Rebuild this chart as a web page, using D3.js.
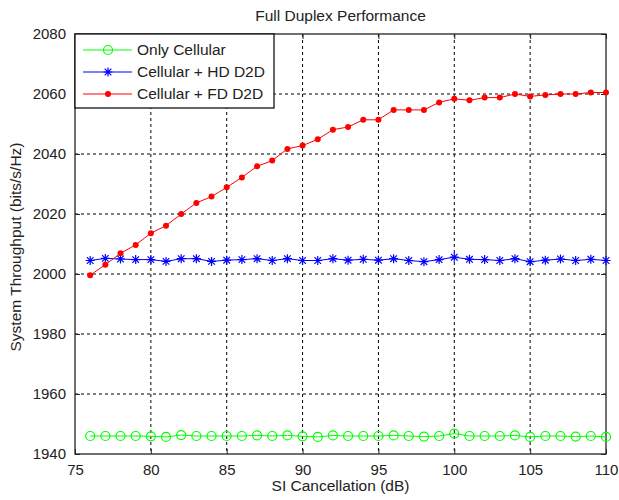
<!DOCTYPE html>
<html>
<head>
<meta charset="utf-8">
<script src="https://cdn.jsdelivr.net/npm/d3@7"></script>
<style>
    body { margin: 0; background: #fff; }
    svg { display: block; font-family: "Liberation Sans", Arial, sans-serif; }
    .grid line { stroke: #000; stroke-dasharray: 3,3; stroke-width: 1; }
    .tick-label { font-size: 15px; fill: #222; }
</style>
</head>
<body>
<svg id="chart" width="619" height="500"></svg>
<script>
// SI cancellation levels (dB)
var siCancel = [76, 77, 78, 79, 80, 81, 82, 83, 84, 85, 86, 87, 88, 89, 90, 91, 92, 93,
                94, 95, 96, 97, 98, 99, 100, 101, 102, 103, 104, 105, 106, 107, 108, 109, 110];

var onlyCellular = [1946, 1946, 1946, 1946, 1945.9, 1945.7, 1946.3, 1946, 1946, 1946,
                    1946, 1946.2, 1946, 1946.2, 1945.9, 1945.7, 1946.2, 1946,
                    1946, 1946, 1946.2, 1946, 1945.8, 1946, 1946.8, 1946, 1946, 1946,
                    1946.2, 1945.7, 1946, 1946, 1945.8, 1946, 1945.7];

var hdD2D = [2004.5, 2005.2, 2005, 2004.8, 2004.8, 2004.2, 2005.1, 2005.1, 2004.2, 2004.6,
             2004.8, 2005.1, 2004.5, 2005.1, 2004.5, 2004.5, 2005.1, 2004.6,
             2004.9, 2004.6, 2005.1, 2004.5, 2004.1, 2004.8, 2005.6, 2004.9, 2004.8, 2004.5,
             2005.1, 2004.1, 2004.6, 2005, 2004.5, 2004.9, 2004.5];

var fdD2D = [1999.6, 2003.1, 2006.9, 2009.7, 2013.6, 2016.1, 2020, 2023.7, 2025.8, 2028.9,
             2032.2, 2035.9, 2037.8, 2041.7, 2042.8, 2044.9, 2048.1, 2049,
             2051.4, 2051.4, 2054.7, 2054.7, 2054.7, 2057.2, 2058.4, 2057.9, 2058.8, 2058.8,
             2060, 2059.2, 2059.7, 2060, 2060, 2060.5, 2060.5];

var xTicks = [75, 80, 85, 90, 95, 100, 105, 110];
var yTicks = [1940, 1960, 1980, 2000, 2020, 2040, 2060, 2080];

var seriesNames = ['Only Cellular', 'Cellular + HD D2D', 'Cellular + FD D2D'];

var svg = d3.select('#chart'),
    margin = {top: 34, right: 13, bottom: 46, left: 75},
    width = 619 - margin.left - margin.right,
    height = 500 - margin.top - margin.bottom;

var scene = svg.append('g')
    .attr('transform', 'translate(' + margin.left + ',' + margin.top + ')');

var x = d3.scaleLinear().domain([75, 110]).range([0, width]);
var y = d3.scaleLinear().domain([1940, 2080]).range([height, 0]);

// build series from the arrays
var data = [
    {id: 'cell', title: seriesNames[0], color: '#00ff00', marker: 'circle',
        values: siCancel.map(function (d, i) { return {x: d, y: onlyCellular[i]}; })},
    {id: 'hd', title: seriesNames[1], color: '#0000ff', marker: 'star',
        values: siCancel.map(function (d, i) { return {x: d, y: hdD2D[i]}; })},
    {id: 'fd', title: seriesNames[2], color: '#ff0000', marker: 'dot',
        values: siCancel.map(function (d, i) { return {x: d, y: fdD2D[i]}; })}
];

// Grid (dotted, like matlab "grid on")
var grid = scene.append('g').attr('class', 'grid');
grid.selectAll('.gx')
    .data(xTicks.slice(1, -1))
    .enter().append('line')
    .attr('x1', function (d) { return x(d); })
    .attr('x2', function (d) { return x(d); })
    .attr('y1', 0)
    .attr('y2', height);
grid.selectAll('.gy')
    .data(yTicks.slice(1, -1))
    .enter().append('line')
    .attr('x1', 0)
    .attr('x2', width)
    .attr('y1', function (d) { return y(d); })
    .attr('y2', function (d) { return y(d); });

// Axes - ticks inside, on all four sides
var axisColor = '#262626';
function styleAxis(g) {
    g.select('.domain').remove();
    g.selectAll('.tick line').attr('stroke', axisColor);
    g.selectAll('.tick text')
        .attr('class', 'tick-label')
        .style('font-family', '"Liberation Sans", Arial, sans-serif');
}

scene.append('g')
    .attr('transform', 'translate(0,' + height + ')')
    .call(d3.axisBottom(x).tickValues(xTicks).tickSizeInner(-5).tickSizeOuter(0).tickPadding(10))
    .call(styleAxis);

scene.append('g')
    .call(d3.axisLeft(y).tickValues(yTicks).tickFormat(d3.format('d')).tickSizeInner(-5).tickSizeOuter(0).tickPadding(9))
    .call(styleAxis);

scene.append('g')
    .call(d3.axisTop(x).tickValues(xTicks).tickFormat('').tickSizeInner(-5).tickSizeOuter(0))
    .call(styleAxis);

scene.append('g')
    .attr('transform', 'translate(' + width + ',0)')
    .call(d3.axisRight(y).tickValues(yTicks).tickFormat('').tickSizeInner(-5).tickSizeOuter(0))
    .call(styleAxis);

// Box
scene.append('rect')
    .attr('width', width)
    .attr('height', height)
    .attr('fill', 'none')
    .attr('stroke', axisColor)
    .attr('stroke-width', 1.3);

// draws one marker at (0,0)
function drawMarker(g, type, color) {
    if (type === 'circle') {
        g.append('circle').attr('r', 4.5)
            .attr('fill', 'none').attr('stroke', color).attr('stroke-width', 1.2);
    } else if (type === 'star') {
        var s = 4.5, t = 3.3;
        g.append('path')
            .attr('d', 'M0,' + (-s) + 'V' + s + 'M' + (-s) + ',0H' + s +
                'M' + (-t) + ',' + (-t) + 'L' + t + ',' + t +
                'M' + (-t) + ',' + t + 'L' + t + ',' + (-t))
            .attr('stroke', color).attr('stroke-width', 1.2).attr('fill', 'none');
    } else {
        g.append('circle').attr('r', 3).attr('fill', color);
    }
}

var line = d3.line()
    .x(function (d) { return x(d.x); })
    .y(function (d) { return y(d.y); });

var series = scene.selectAll('.series')
    .data(data)
    .enter().append('g')
    .attr('class', 'series')
    .attr('id', function (d) { return 'serie-' + d.id; });

series.append('path')
    .attr('d', function (d) { return line(d.values); })
    .attr('fill', 'none')
    .attr('stroke', function (d) { return d.color; })
    .attr('stroke-width', 1);

series.each(function (s) {
    d3.select(this).selectAll('.pt')
        .data(s.values)
        .enter().append('g')
        .attr('class', 'pt')
        .attr('transform', function (d) { return 'translate(' + x(d.x) + ',' + y(d.y) + ')'; })
        .each(function () { drawMarker(d3.select(this), s.marker, s.color); });
});

// Legend box
var legend = scene.append('g').attr('class', 'legend');
legend.append('rect')
    .attr('x', 0)
    .attr('y', 0)
    .attr('width', 199)
    .attr('height', 74)
    .attr('fill', '#fff')
    .attr('stroke', '#000')
    .attr('stroke-width', 1.2);

legend.selectAll('.legendItem')
    .data(data)
    .enter().append('g')
    .attr('class', 'legendItem')
    .attr('transform', function (d, i) { return 'translate(0,' + (16 + i * 22) + ')'; })
    .each(function (d) {
        var g = d3.select(this);
        g.append('line')
            .attr('x1', 8).attr('x2', 57)
            .attr('stroke', d.color).attr('stroke-width', 1);
        drawMarker(g.append('g').attr('transform', 'translate(33,0)'), d.marker, d.color);
        g.append('text')
            .attr('x', 62)
            .attr('dy', '0.35em')
            .style('font-size', '15.5px')
            .style('fill', '#222')
            .text(d.title);
    });

// Title and axis labels
svg.append('text')
    .attr('x', margin.left + width / 2)
    .attr('y', 21)
    .attr('text-anchor', 'middle')
    .style('font-size', '15.5px')
    .style('fill', '#222')
    .text('Full Duplex Performance');

svg.append('text')
    .attr('x', margin.left + width / 2)
    .attr('y', 491)
    .attr('text-anchor', 'middle')
    .style('font-size', '15.5px')
    .style('fill', '#222')
    .text('SI Cancellation (dB)');

svg.append('text')
    .attr('transform', 'translate(21,' + (margin.top + height / 2 + 3) + ') rotate(-90)')
    .attr('text-anchor', 'middle')
    .style('font-size', '15.5px')
    .style('fill', '#222')
    .text('System Throughput (bits/s/Hz)');
</script>
</body>
</html>
